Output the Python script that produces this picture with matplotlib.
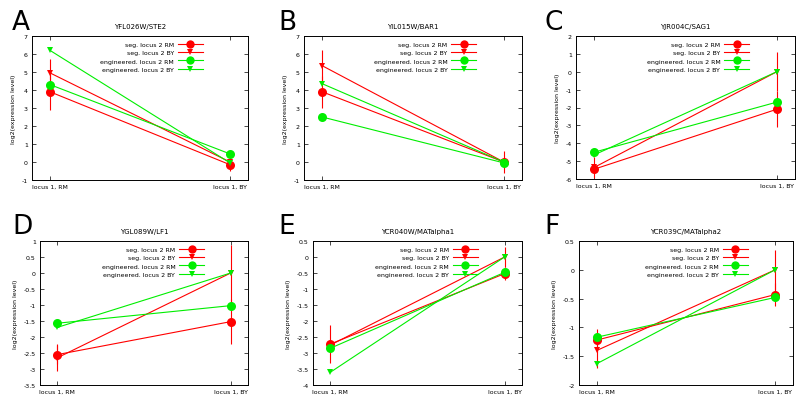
import matplotlib
matplotlib.use("Agg")
import matplotlib.pyplot as plt
from matplotlib.lines import Line2D
import numpy as np

plt.rcParams['font.family'] = ['DejaVu Sans']

xlabels = ["locus 1, RM", "locus 1, BY"]
series_names = ["seg. locus 2 RM", "seg. locus 2 BY",
                "engineered. locus 2 RM", "engineered. locus 2 BY"]
series_colors = ["#ff0000", "#ff0000", "#00ee00", "#00ee00"]
series_markers = ["o", "v", "o", "v"]

titles = ["YFL026W/STE2", "YIL015W/BAR1", "YJR004C/SAG1",
          "YGL089W/LF1", "YCR040W/MATalpha1", "YCR039C/MATalpha2"]
letters = ["A", "B", "C", "D", "E", "F"]

# values [series][RM, BY]
vals_A = [[3.9, -0.15], [4.95, 0.0], [4.3, 0.45], [6.2, -0.05]]
errs_A = [[1.0, 0.35], [0.8, 0.0], [0.0, 0.0], [0.0, 0.0]]
vals_B = [[3.9, 0.0], [5.35, 0.0], [2.5, -0.05], [4.35, 0.0]]
errs_B = [[0.9, 0.0], [0.85, 0.6], [0.0, 0.0], [0.0, 0.0]]
vals_C = [[-5.45, -2.1], [-5.35, 0.0], [-4.5, -1.7], [-4.65, 0.0]]
errs_C = [[0.0, 1.0], [0.6, 1.1], [0.0, 0.0], [0.0, 0.0]]
vals_D = [[-2.55, -1.52], [-2.65, 0.0], [-1.57, -1.02], [-1.7, 0.0]]
errs_D = [[0.3, 0.7], [0.42, 0.88], [0.0, 0.0], [0.0, 0.0]]
vals_E = [[-2.72, -0.52], [-2.75, 0.0], [-2.85, -0.48], [-3.6, 0.0]]
errs_E = [[0.6, 0.2], [0.0, 0.3], [0.0, 0.0], [0.0, 0.0]]
vals_F = [[-1.22, -0.43], [-1.4, 0.0], [-1.17, -0.48], [-1.63, 0.0]]
errs_F = [[0.2, 0.2], [0.3, 0.35], [0.0, 0.0], [0.0, 0.0]]

all_vals = [vals_A, vals_B, vals_C, vals_D, vals_E, vals_F]
all_errs = [errs_A, errs_B, errs_C, errs_D, errs_E, errs_F]
ylims = [(-1, 7), (-1, 7), (-6, 2), (-3.5, 1), (-4, 0.5), (-2, 0.5)]
ysteps = [1, 1, 1, 0.5, 0.5, 0.5]

W, H = 800, 406
# pixel boxes: left, right, top, bottom
boxes = [(32, 248, 37, 181), (304, 522, 37, 181), (576, 795, 37, 180),
         (40, 248, 242, 386), (313, 522, 242, 386), (579, 793, 242, 386)]
letter_pos = [(12, 30), (278, 30), (544, 30), (12, 234), (278, 234), (544, 234)]

fig = plt.figure(figsize=(W / 100, H / 100), dpi=100)
for i in range(6):
    l, r, t, b = boxes[i]
    ax = fig.add_axes([l / W, (H - b) / H, (r - l) / W, (b - t) / H])
    x = np.array([0, 1])
    handles = []
    for s in range(4):
        v = all_vals[i][s]
        e = all_errs[i][s]
        ax.errorbar(x, v, yerr=e, color=series_colors[s], lw=0.8,
                    marker=series_markers[s],
                    markersize=6.5 if series_markers[s] == "o" else 5,
                    markeredgewidth=0, elinewidth=0.8, capsize=1.5,
                    capthick=0.6, zorder=3)
        handles.append(Line2D([0], [0], color=series_colors[s], lw=0.8,
                              marker=series_markers[s],
                              markersize=6 if series_markers[s] == "o" else 4.5,
                              markeredgewidth=0))
    ax.set_xlim(-0.1, 1.1)
    ax.set_ylim(*ylims[i])
    lo, hi = ylims[i]
    ax.set_yticks(np.arange(lo, hi + 1e-9, ysteps[i]))
    ax.set_yticklabels([("%g" % v) for v in np.arange(lo, hi + 1e-9, ysteps[i])])
    ax.set_xticks(x)
    ax.set_xticklabels(xlabels)
    ax.tick_params(direction="in", labelsize=4.5, length=3, width=0.5,
                   top=True, right=True, pad=3, colors="black")
    for sp in ax.spines.values():
        sp.set_linewidth(0.7)
    ax.set_title(titles[i], fontsize=5, pad=6)
    ax.set_ylabel("log2(expression level)", fontsize=4.5, labelpad=4)
    ax.legend(handles, series_names, loc="upper right",
              bbox_to_anchor=(0.81, 0.99), frameon=False,
              markerfirst=False, fontsize=4.5, handlelength=4,
              handletextpad=0.6, labelspacing=0.45, borderpad=0.2)
    fig.text(letter_pos[i][0] / W, 1 - letter_pos[i][1] / H, letters[i],
             fontsize=19, ha="left", va="baseline")

fig.savefig("out.png", dpi=100)
